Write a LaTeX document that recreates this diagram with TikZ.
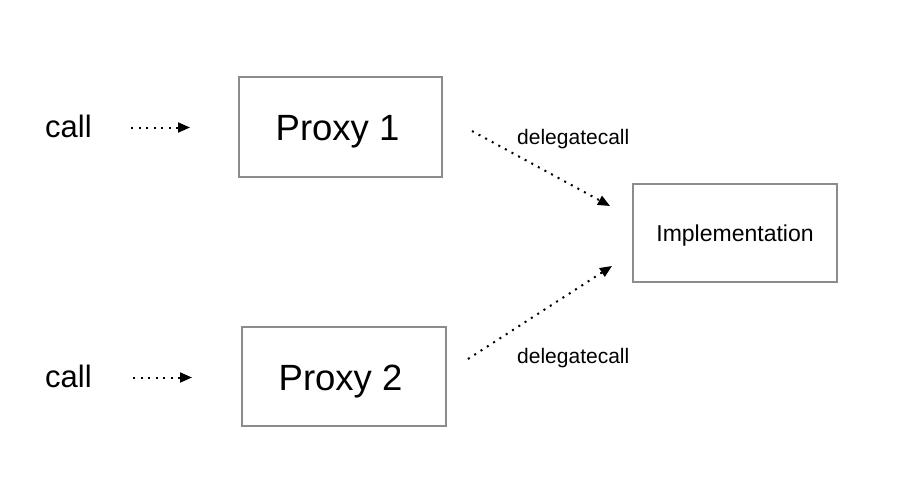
\documentclass[tikz,border=0pt]{standalone}
\usepackage{fontspec}
\setmainfont{Liberation Sans}
\usetikzlibrary{arrows.meta}
\begin{document}
\begin{tikzpicture}[x=1pt,y=-1pt,
  box/.style={draw=black!45,line width=1.6pt,inner sep=0pt,anchor=north west},
  lbl/.style={inner sep=0pt,text=black,anchor=base west},
  dotarrow/.style={line width=2pt,dash pattern=on 2pt off 5.5pt,-{Triangle[length=12pt,width=10pt]}}]
\useasboundingbox (0,0) rectangle (901,500);
\node[box,minimum width=203pt,minimum height=100pt] (p1) at (238,76) {};
\node[lbl,font=\fontsize{36.5}{40}\selectfont] (t1) at (275.5,140) {Proxy 1};
\node[box,minimum width=204pt,minimum height=99pt] (p2) at (241,326) {};
\node[lbl,font=\fontsize{36.5}{40}\selectfont] (t2) at (278.5,390.5) {Proxy 2};
\node[box,minimum width=204pt,minimum height=98pt] (impl) at (632,183) {};
\node[lbl,anchor=base,font=\fontsize{23}{26}\selectfont] (ti) at (735,241) {Implementation};
\node[lbl,font=\fontsize{31}{34}\selectfont] (c1) at (45,137.7) {call};
\node[lbl,font=\fontsize{31}{34}\selectfont] (c2) at (45,387.7) {call};
\coordinate (a1s) at (131,127.5);
\coordinate (a1e) at (190,127.5);
\coordinate (a2s) at (133,377.5);
\coordinate (a2e) at (192,377.5);
\draw[dotarrow] (a1s) -- (a1e);
\draw[dotarrow] (a2s) -- (a2e);
\coordinate (d1s) at (472,131);
\coordinate (d1e) at (610,206);
\coordinate (d2s) at (468,359);
\coordinate (d2e) at (612,266);
\draw[dotarrow] (d1s) -- (d1e);
\draw[dotarrow] (d2s) -- (d2e);
\node[lbl,font=\fontsize{21}{24}\selectfont] (l1) at (517,144.3) {delegatecall};
\node[lbl,font=\fontsize{21}{24}\selectfont] (l2) at (517,363.3) {delegatecall};
\end{tikzpicture}
\end{document}
